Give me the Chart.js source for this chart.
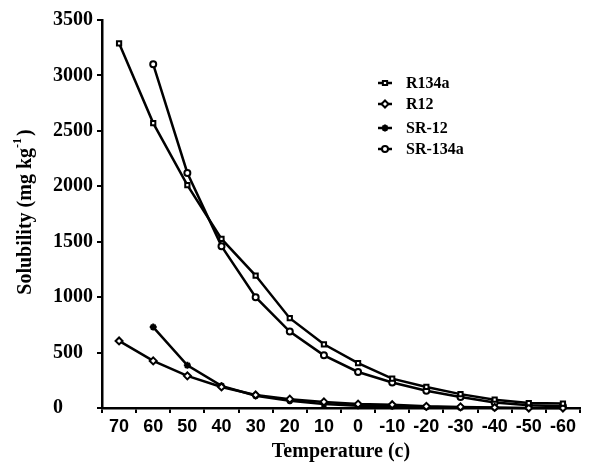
<!DOCTYPE html>
<html>
<head>
<meta charset="utf-8">
<script src="https://cdn.jsdelivr.net/npm/chart.js@4"></script>
<style>
  html, body { margin: 0; padding: 0; background: #fff; }
  #c { display: block; }
</style>
</head>
<body>
<canvas id="c" width="593" height="466"></canvas>
<script>
const categories = ['70','60','50','40','30','20','10','0','-10','-20','-30','-40','-50','-60'];
const yTicks = [0, 500, 1000, 1500, 2000, 2500, 3000, 3500];
const seriesNames = ['R134a', 'R12', 'SR-12', 'SR-134a'];
const R134a  = [3290, 2570, 2010, 1525, 1195, 810, 575, 405, 265, 190, 125, 75, 45, 40];
const R12    = [605, 425, 290, 190, 118, 80, 55, 35, 30, 15, 10, 5, 0, 0];
const SR12   = [null, 730, 385, 200, 110, 65, 35, 20, 15, 10, 5, 3, null, null];
const SR134a = [null, 3100, 2120, 1460, 1000, 690, 475, 325, 230, 155, 100, 50, 25, 15];
const yTitle = 'Solubility (mg kg';
const yTitleSup = '-1';
const xTitle = 'Temperature (c)';

const serif = '"Liberation Serif", "Times New Roman", serif';
const sans = '"Liberation Sans", Arial, sans-serif';

function ds(label, data, style, radius) {
  return {
    label, data,
    borderColor: '#000', backgroundColor: '#fff',
    borderWidth: 2.5,
    pointStyle: style, pointRadius: radius, pointBorderWidth: 2,
    pointBackgroundColor: '#fff', pointBorderColor: '#000',
    spanGaps: false, tension: 0, clip: false
  };
}

const legendPlugin = {
  id: 'customLegend',
  afterDraw(chart) {
    const ctx = chart.ctx;
    const ys = [83, 104, 128, 149];
    ctx.save();
    chart.data.datasets.forEach((d, i) => {
      const y = ys[i];
      ctx.strokeStyle = '#000';
      ctx.lineWidth = 2.5;
      ctx.beginPath(); ctx.moveTo(378, y); ctx.lineTo(392, y); ctx.stroke();
      ctx.fillStyle = '#fff';
      ctx.lineWidth = 2;
      Chart.helpers.drawPoint(ctx, {pointStyle: d.pointStyle, radius: d.pointRadius, rotation: 0, borderWidth: 2}, 385, y);
      ctx.fillStyle = '#000';
      ctx.font = 'bold 16px ' + serif;
      ctx.textAlign = 'left';
      ctx.textBaseline = 'middle';
      ctx.fillText(d.label, 406, y + 1);
    });
    ctx.restore();
  }
};

const yTitlePlugin = {
  id: 'yTitle',
  afterDraw(chart) {
    const ctx = chart.ctx;
    ctx.save();
    ctx.translate(26, 212);
    ctx.rotate(-Math.PI / 2);
    ctx.fillStyle = '#000';
    ctx.textBaseline = 'middle';
    ctx.textAlign = 'left';
    ctx.font = 'bold 20px ' + serif;
    const w1 = ctx.measureText(yTitle).width;
    ctx.font = 'bold 12px ' + serif;
    const w2 = ctx.measureText(yTitleSup).width;
    ctx.font = 'bold 20px ' + serif;
    const w3 = ctx.measureText(')').width;
    const total = w1 + w2 + w3 + 2;
    let x = -total / 2;
    ctx.fillText(yTitle, x, 0);
    x += w1;
    ctx.font = 'bold 12px ' + serif;
    ctx.fillText(yTitleSup, x, -8);
    x += w2 + 2;
    ctx.font = 'bold 20px ' + serif;
    ctx.fillText(')', x, 0);
    ctx.restore();
  }
};

new Chart(document.getElementById('c'), {
  type: 'line',
  data: {
    labels: categories,
    datasets: [
      ds(seriesNames[0], R134a, 'rect', 3),
      ds(seriesNames[1], R12, 'rectRot', 3.5),
      ds(seriesNames[2], SR12, 'star', 3.5),
      ds(seriesNames[3], SR134a, 'circle', 3)
    ]
  },
  options: {
    responsive: false,
    animation: false,
    devicePixelRatio: 1,
    layout: { padding: { left: 53, right: 13, top: 20, bottom: 0 } },
    plugins: { legend: { display: false }, tooltip: { enabled: false } },
    scales: {
      x: {
        type: 'category',
        offset: true,
        grid: { offset: true, drawOnChartArea: false, drawTicks: true, tickLength: 5, color: '#000', lineWidth: 2 },
        border: { display: true, color: '#000', width: 2.5 },
        ticks: { color: '#000', font: { family: sans, size: 18, weight: 'bold' }, padding: 3, maxRotation: 0, autoSkip: false },
        title: { display: true, text: xTitle, color: '#000', font: { family: serif, size: 20, weight: 'bold' }, padding: { top: 4, bottom: 2 } },
        afterFit(scale) { scale.height = 58; }
      },
      y: {
        min: 0, max: 3500,
        afterBuildTicks(scale) { scale.ticks = yTicks.map(v => ({ value: v })); },
        grid: { drawOnChartArea: false, drawTicks: true, tickLength: 5, color: '#000', lineWidth: 2 },
        border: { display: true, color: '#000', width: 2.5 },
        ticks: { color: '#000', font: { family: serif, size: 20, weight: 'bold' }, crossAlign: 'far', padding: 4,
                 callback: (v) => String(v) },
        afterFit(scale) { scale.width = 49; }
      }
    }
  },
  plugins: [legendPlugin, yTitlePlugin]
});
</script>
</body>
</html>
